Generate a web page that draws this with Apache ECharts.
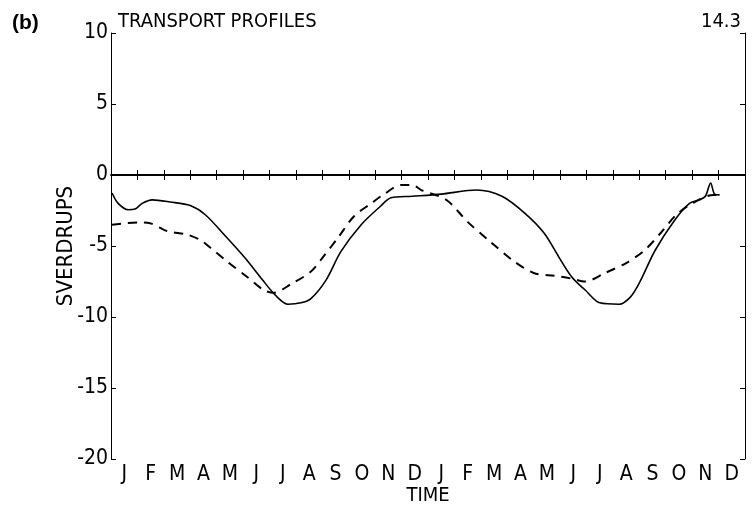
<!DOCTYPE html>
<html><head><meta charset="utf-8">
<script src="https://cdn.jsdelivr.net/npm/echarts@6/dist/echarts.min.js"></script>
<style>html,body{margin:0;padding:0;background:#fff;overflow:hidden}#c{width:752px;height:511px}</style>
</head><body><div id="c"></div>
<script>
const monthLabels = ['J','F','M','A','M','J','J','A','S','O','N','D','J','F','M','A','M','J','J','A','S','O','N','D'];
// x in months from start of first January
const solidX = [0.04,0.27,0.65,0.91,1.18,1.56,2.24,3.0,3.57,4.33,5.1,5.74,6.24,6.7,7.19,7.57,8.14,8.7,9.47,10.2,10.6,11.4,12.5,13.84,14.8,15.67,16.4,16.96,17.45,17.95,18.5,19.24,19.66,20.0,20.6,21.33,21.9,22.28,22.5,22.7,22.85,23.04];
const solidY = [-1.27,-2.0,-2.45,-2.4,-2.0,-1.75,-1.9,-2.15,-2.8,-4.3,-5.9,-7.4,-8.5,-9.1,-9.0,-8.7,-7.4,-5.4,-3.5,-2.2,-1.6,-1.5,-1.35,-1.06,-1.5,-2.7,-4.1,-5.8,-7.2,-8.1,-9.0,-9.1,-8.6,-7.6,-5.3,-3.2,-2.0,-1.75,-1.5,-0.56,-1.35,-1.4];
const dashedX = [0.04,0.53,1.1,1.48,2.13,2.89,3.4,3.75,4.4,5.17,5.78,6.16,6.8,7.57,8.06,8.6,9.2,9.85,10.3,11.0,11.4,11.75,12.7,13.5,14.3,15.2,16.0,16.8,17.45,17.95,18.7,19.5,20.2,20.8,21.4,22.0,22.8,23.04];
const dashedY = [-3.5,-3.4,-3.35,-3.4,-3.95,-4.2,-4.6,-5.1,-6.1,-7.2,-8.1,-8.3,-7.7,-6.8,-5.7,-4.4,-2.9,-2.0,-1.4,-0.7,-0.7,-1.06,-1.76,-3.3,-4.6,-6.0,-6.9,-7.1,-7.3,-7.5,-6.9,-6.2,-5.3,-4.1,-2.8,-2.0,-1.4,-1.4];
const yMin = -20, yMax = 10, yStep = 5;

const FONT = '"DejaVu Sans Condensed","Liberation Sans Narrow",Arial,sans-serif';
const el = document.getElementById('c');
const chart = echarts.init(el, null, {renderer:'canvas', width:752, height:511});
const zip = (xs, ys) => xs.map((x,i)=>[x, ys[i]]);
const xLine = {show:true, lineStyle:{color:'#000', width:1.6}};
const yLine = {show:true, lineStyle:{color:'#000', width:1}};
const tick = {show:true, inside:true, length:5, lineStyle:{color:'#000', width:1}};
chart.setOption({
  animation:false,
  backgroundColor:'#fff',
  grid:{left:111, top:33, width:634, height:426, show:false, containLabel:false, outerBoundsMode:'none'},
  title:[
    {text:'(b)', left:7, top:8, textStyle:{fontFamily:'Arial', fontWeight:'bold', fontSize:21, color:'#000'}},
    {text:'TRANSPORT PROFILES', left:113, top:7, textStyle:{fontFamily:FONT, fontWeight:'normal', fontSize:20, color:'#000'}},
    {text:'14.3', right:6, top:7, textStyle:{fontFamily:FONT, fontWeight:'normal', fontSize:20, color:'#000'}}
  ],
  xAxis:[
    {type:'category', data:monthLabels, position:'bottom', boundaryGap:true,
     name:'TIME', nameLocation:'middle', nameGap:27, nameMoveOverlap:false,
     nameTextStyle:{fontFamily:FONT, fontSize:20, color:'#000', verticalAlign:'top'},
     axisLine:xLine, axisTick:tick,
     axisLabel:{fontFamily:FONT, fontSize:21, color:'#000', margin:5, interval:0},
     splitLine:{show:false}},
    {type:'category', data:monthLabels, position:'top', boundaryGap:true,
     axisLine:xLine, axisTick:tick,
     axisLabel:{show:false}, splitLine:{show:false}},
    {type:'value', min:0, max:24, show:false, position:'bottom'}
  ],
  yAxis:[
    {type:'value', min:yMin, max:yMax, interval:yStep, position:'left',
     name:'SVERDRUPS', nameLocation:'middle', nameGap:34, nameRotate:90, nameMoveOverlap:false,
     nameTextStyle:{fontFamily:FONT, fontSize:22, color:'#000'},
     axisLine:yLine, axisTick:tick,
     axisLabel:{fontFamily:FONT, fontSize:21, color:'#000', margin:3, formatter:v=>String(v)},
     splitLine:{show:false}},
    {type:'value', min:yMin, max:yMax, interval:yStep, position:'right',
     axisLine:yLine, axisTick:tick,
     axisLabel:{show:false}, splitLine:{show:false}}
  ],
  series:[
    {type:'line', name:'solid', xAxisIndex:2, yAxisIndex:0, data:zip(solidX, solidY),
     smooth:0.3, symbol:'none', lineStyle:{color:'#000', width:1.6, type:'solid'},
     markLine:{silent:true, symbol:'none', label:{show:false},
       lineStyle:{color:'#000', width:1.6, type:'solid'}, data:[{yAxis:0}]}},
    {type:'line', name:'dashed', xAxisIndex:2, yAxisIndex:0, data:zip(dashedX, dashedY),
     smooth:0.3, symbol:'none', lineStyle:{color:'#000', width:2, type:[9,7]}}
  ]
});
</script></body></html>
